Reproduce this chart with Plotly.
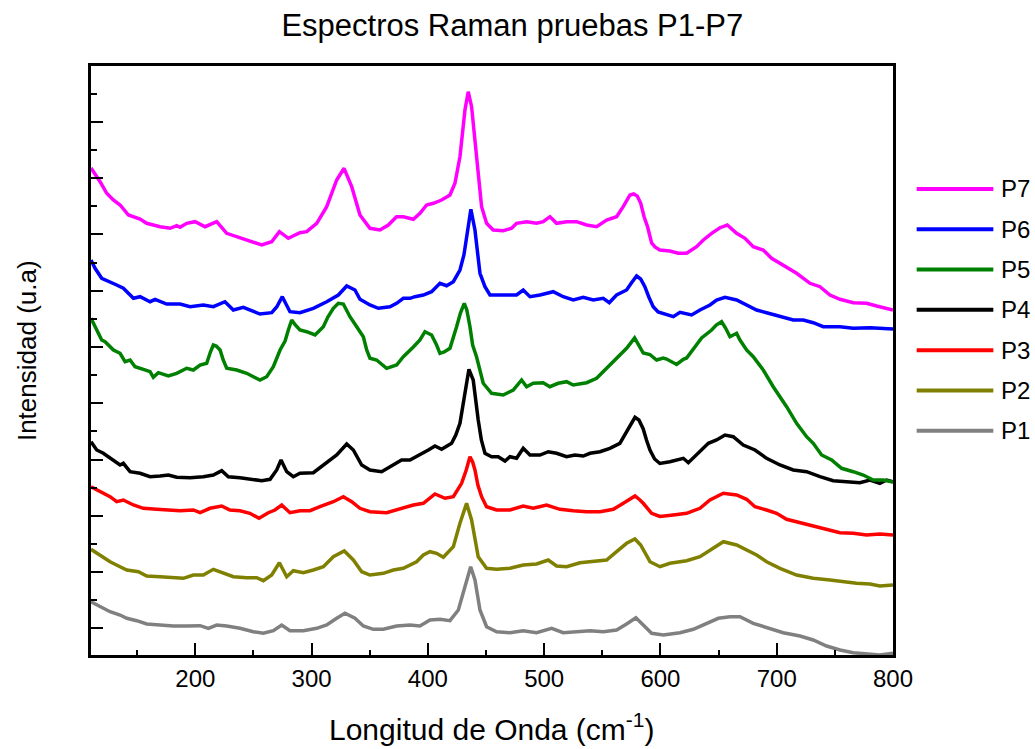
import plotly.graph_objects as go

# Espectros Raman P1-P7 (intensidad en u.a., desplazadas verticalmente como en el original)
nombres = ['P1', 'P2', 'P3', 'P4', 'P5', 'P6', 'P7']
colores = ['#808080', '#808000', '#FF0000', '#000000', '#008000', '#0000FF', '#FF00FF']

x_p1 = [110.3, 118.1, 126.7, 135.3, 141.1, 149.6, 158.2, 169.7, 181.1, 192.6, 204.1, 211.2, 218.4, 227, 238.4,
        249.9, 258.5, 267.1, 274.3, 281.4, 292.9, 304.4, 313, 321.6, 328.7, 337.3, 344.5, 353.1, 361.7, 373.1,
        384.6, 393.2, 401.8, 410.4, 419, 426.2, 431.9, 436.8, 440.5, 444.8, 450.5, 459.1, 470.6, 482, 493.5,
        506.4, 516.4, 527.9, 539.4, 550.8, 562.3, 570.9, 578.9, 585.2, 592.4, 602.5, 616.8, 628.3, 639.7, 649.8,
        659.8, 668.4, 679.8, 691.3, 705.6, 720, 731.4, 742.9, 754.4, 765.8, 777.3, 788.7, 800]
y_p1 = [53.3, 48.3, 43.3, 40, 36.7, 34.3, 31, 30, 29, 29, 29.3, 26.7, 30, 29, 26.7,
        23.3, 21.7, 24.3, 30, 24.3, 24.3, 26.7, 30, 36.7, 41.7, 36.7, 29, 25.7, 25.7, 29,
        30, 29, 35, 35.7, 34.3, 45, 68.3, 88.3, 75, 45, 28.3, 23.3, 22.3, 24.3, 22.3,
        26.7, 22.3, 23.3, 24.3, 23.3, 25, 31, 37.3, 30, 21.7, 20, 22.3, 25.7, 31.7, 36.7,
        38.3, 38.3, 31.7, 27.7, 22.3, 19, 15, 9, 5, 2.3, 1, 0, 1.7]

x_p2 = [110.3, 118.1, 126.7, 135.3, 141.1, 151.1, 158.2, 169.7, 181.1, 189.7, 198.3, 206.9, 215.5, 224.1, 232.7,
        244.2, 252.8, 258.5, 265.7, 272.3, 278.6, 284.3, 292.9, 301.5, 310.1, 318.7, 328.1, 335.9, 343.1, 350.2,
        361.7, 370.3, 378.9, 390.3, 396.1, 401.8, 407.5, 413.3, 421.9, 427.6, 433.3, 437.6, 443.3, 450.5, 459.1,
        470.6, 482, 493.5, 503.5, 510.7, 519.3, 530.8, 542.2, 553.7, 562.3, 570.9, 578.1, 583, 591, 599.6,
        608.2, 622.5, 634, 642.6, 654.1, 665.5, 674.1, 682.7, 691.3, 702.8, 717.1, 731.4, 745.8, 757.2, 768.7,
        780.2, 788.7, 800]
y_p2 = [105.7, 100, 93.3, 88.3, 85, 83.3, 79, 78.3, 77.3, 76.7, 80, 80, 85.7, 81.7, 78.3,
        77.3, 77.3, 74.3, 80, 92.3, 78.3, 84.3, 82.3, 85, 88.3, 98.3, 104, 95, 83.3, 80,
        81.7, 85, 86.7, 93.3, 100, 103.3, 101.7, 97.7, 108.3, 131.7, 151.7, 135, 98.3, 86.7, 85.7,
        86.7, 90, 91, 95, 89, 88.3, 92.3, 93.3, 95, 103.3, 111.7, 116, 110, 93.3, 88.3,
        91.7, 94.3, 98.3, 105, 113.3, 110, 105, 100, 93.3, 86.7, 80, 76.7, 75, 73.3, 71.7,
        71, 69, 70]

x_p3 = [110.3, 118.1, 126.7, 132.4, 138.1, 146.8, 155.3, 166.8, 175.4, 186.9, 198.3, 204.1, 212.6, 222.7, 229.8,
        238.4, 247, 254.8, 262.8, 268.5, 274.3, 281.4, 290, 298.6, 307.2, 318.7, 327.3, 334.5, 341.6, 350.2,
        364.5, 376.3, 387.5, 396.1, 406.1, 414.7, 421.9, 429, 433, 436.2, 438.5, 440.5, 443, 446.2, 450.5,
        459.1, 470.6, 482, 490.6, 502.1, 513.6, 525, 536.5, 548, 559.5, 568.1, 578.1, 582.4, 585.2, 592.4,
        599.5, 611.1, 622.5, 634, 642.6, 654.1, 665.5, 674.1, 681.3, 691.3, 699.9, 708.5, 720, 731.4, 742.9,
        754.4, 765.8, 777.3, 788.7, 800]
y_p3 = [168.3, 163.3, 158.3, 153.3, 155, 150, 146.7, 145.7, 145, 144.3, 145, 142.3, 146.7, 149, 145,
        144.3, 141.7, 136.7, 142.3, 145, 150, 142.3, 144.3, 144.3, 148.3, 153.3, 158.3, 153.3, 146.7, 143.3,
        142.3, 146.7, 150, 151.7, 161, 156.7, 158.3, 171.7, 185, 198.3, 193, 185, 170, 158.3, 148.3,
        145, 145, 149, 146.7, 150, 145.7, 144.3, 143.3, 143.3, 145.7, 151.7, 159, 155, 151.7, 141.7,
        138.5, 140, 141.7, 146.7, 155, 161.7, 160, 155.7, 148.3, 145, 141.7, 135.7, 132.3, 128.3, 125,
        122.3, 121.7, 120, 121, 120]

x_p4 = [110.3, 115.2, 120.9, 126.7, 135.3, 138.1, 143.9, 152.5, 161.1, 169.7, 176.8, 184, 195.5, 206.9, 215.5,
        222.7, 228.4, 238.4, 249.9, 257.1, 264.3, 270, 273.7, 278.6, 284.3, 290, 301.5, 310.1, 321.6, 330.2,
        335.9, 343.1, 350.2, 360.2, 367.4, 377.4, 384.6, 393.2, 400.4, 406.1, 411.8, 420.4, 424, 427.6, 431.9,
        435.3, 439, 441, 443.3, 446, 449.1, 454.8, 460.5, 466.3, 470.6, 476.3, 482, 487.8, 496.4, 503.5,
        510.7, 519.3, 526.5, 533.6, 539.4, 548, 556.5, 565.1, 570.9, 574.5, 578.1, 581.5, 585.2, 588, 591,
        595, 599.5, 608.1, 619.7, 624, 632.6, 641.2, 648.3, 655.5, 662.6, 671.2, 681.3, 691.3, 702.8, 714.2,
        725.7, 737.2, 748.6, 760.1, 771.5, 780.2, 788.7, 794.5, 800]
y_p4 = [213.3, 205, 201.7, 196.7, 190, 191.7, 183.3, 181.7, 178.3, 179, 180, 177.7, 177.3, 178.3, 180,
        184.3, 178.3, 177.3, 175.7, 174.3, 175.7, 185, 195, 183.3, 178.3, 181.7, 182.3, 190, 200, 211,
        205, 190, 185, 183.3, 188.3, 195, 195, 200, 205, 209, 205.7, 211.7, 220, 231.7, 261.7,
        285.7, 275, 255, 235, 215, 201.7, 198.3, 198.3, 194, 198.3, 196.7, 206.7, 200, 200, 203.3,
        201.7, 198.3, 200, 199, 201.7, 203.3, 206.7, 211.7, 223.3, 232, 237.7, 235, 226, 215, 205,
        196, 191.5, 193.3, 196.7, 192.3, 201.7, 211.7, 215, 220, 218.3, 210, 205, 196.7, 190, 185,
        183.3, 178.3, 174.3, 173.3, 172.3, 175, 171.7, 175, 173.3]

x_p5 = [110.3, 115.2, 119.5, 122.4, 125, 129.6, 135.3, 139.6, 143.9, 148.2, 155.3, 161.1, 163.9, 168.2, 176.8,
        184, 192.6, 198.3, 204.1, 209.8, 213, 215.5, 218, 221.3, 224, 227, 235.6, 244.2, 249.9, 255.6,
        261.4, 267.1, 272.9, 277.2, 280, 282.9, 286, 290, 295.8, 303, 310.1, 314, 318.7, 323, 327.3,
        330, 333, 338.8, 344.5, 347.4, 350.2, 355.9, 364.5, 373.1, 378.9, 387.5, 393.2, 397.5, 403.2, 407.5,
        410.4, 414, 419, 424.7, 428, 431.3, 433.5, 436.2, 438.5, 441.9, 444.5, 447.6, 454.8, 464.8, 473.4,
        480.6, 484.9, 490.6, 499.2, 504.9, 512.1, 519.3, 525, 536.5, 545.1, 556.5, 565.1, 570.9, 577.8, 582.4,
        585.2, 590.9, 596.7, 602.4, 605.3, 613.9, 619.7, 622.5, 626.8, 635.4, 644, 648, 652.6, 656, 659.8,
        665.5, 668.4, 674.1, 679.8, 688.4, 697, 708.5, 717.1, 725.7, 731.4, 738.6, 747.2, 755.8, 765.8, 774.4,
        783, 791.6, 800]
y_p5 = [336.7, 325, 315, 313.3, 310, 305, 301.7, 293.3, 295, 288.3, 285.7, 283.3, 277.7, 282.3, 279,
        281.7, 286.7, 285, 290, 291.7, 303, 310, 309, 305, 295, 286.7, 285, 281.7, 278.3, 275,
        278.3, 288.3, 305, 314, 325, 335, 330, 325, 323.3, 320, 328.3, 338, 346.7, 351.7, 351,
        345, 338.3, 328.3, 318.3, 305, 296.7, 295, 286.7, 290, 298.3, 308, 315, 323.3, 320, 310,
        301.7, 303, 306.7, 328.3, 342, 351.7, 345, 328.3, 310, 298, 285, 271.7, 261.7, 260, 265,
        275, 268.3, 271.7, 272.3, 268.3, 271.7, 273.3, 270, 272.3, 276.7, 290, 300, 306.7, 317, 308,
        302, 300.5, 295, 297, 296, 290.5, 295.7, 297, 303.3, 317, 325, 330, 333.3, 327, 318.3,
        321.7, 315, 305, 298.3, 285, 268.3, 248.3, 231.7, 218.3, 211.7, 200, 195, 186.7, 183.3, 180,
        175, 175, 173]

x_p6 = [110.3, 113.8, 119.5, 126.7, 132.4, 138.1, 146.8, 152.5, 161.1, 165.4, 175.4, 186.9, 195.5, 206.9, 215.5,
        225.5, 232.7, 241.3, 255.6, 265.7, 270, 274.8, 278, 281.4, 290, 301.5, 313, 323, 330.2, 337.3,
        341.6, 350.2, 357.4, 367.4, 373.1, 378.9, 384.6, 388.9, 396.1, 403.2, 410.4, 416.1, 421.9, 427.6, 431,
        433.3, 437, 440.5, 444.8, 449.1, 453.4, 464.8, 476.3, 482, 487.8, 496.4, 507.8, 516.4, 525, 533.6,
        542.2, 550.8, 556, 562.3, 570.9, 575, 579.5, 583, 586.6, 590, 593.8, 598, 602.4, 611.1, 616.8,
        626.8, 634, 642.6, 648.3, 655.5, 665.5, 674.1, 682.7, 691.3, 702.8, 714.2, 722.8, 731.4, 740, 754.4,
        765.8, 780.2, 800]
y_p6 = [395, 386.7, 376.7, 373.3, 370, 366.7, 356.7, 358.3, 353.3, 355.7, 351, 351, 348.3, 350, 348.3,
        353.3, 345, 347.7, 341, 342.3, 348, 358.3, 350, 343.3, 342.3, 346.7, 353.3, 360, 369, 365,
        355.7, 350, 346.7, 348.3, 351.7, 356.7, 356.7, 358.3, 360, 363.3, 371.7, 369.3, 373.3, 385, 400,
        418.3, 445.7, 425, 381.7, 368.3, 360, 360, 360, 365, 358.3, 360, 363.3, 358.3, 355, 357.7,
        355, 356.7, 352.3, 360, 365, 372, 379, 376, 368.3, 358, 348.3, 343, 341.7, 338.3, 342.7,
        340, 345, 350, 355, 357.7, 355, 350, 345, 342.3, 338.3, 335, 335, 332.3, 328.3, 328.3,
        326.7, 327.3, 326]

x_p7 = [110.3, 118.1, 123.8, 129.5, 135.3, 142.5, 152.5, 158.2, 169.7, 178.3, 184, 186.9, 192.6, 199.8, 208.4,
        218.4, 227, 235.6, 244.2, 257.1, 265.7, 272.3, 280, 290, 295.8, 304.4, 313, 321.6, 327.9, 334.5,
        341.6, 350.2, 358.8, 366, 373.1, 378.9, 387.5, 393.2, 398.9, 404.7, 411.8, 419, 423.3, 427.6, 431.9,
        434.7, 437.6, 441.9, 446.2, 450.5, 456.2, 464.8, 472, 476.3, 484.9, 493.5, 499.2, 505, 510.7, 519.3,
        527.9, 536.5, 545.1, 553.7, 562.3, 568, 573.8, 577, 580, 583, 586, 589, 592.4, 595.3, 599.5,
        608, 615.4, 622.5, 631.1, 636.9, 644, 651.2, 657.5, 665.5, 672.7, 679.8, 688.4, 695.6, 705.6, 717.1,
        728.6, 737.2, 745.8, 754.4, 765.8, 777.3, 785.9, 800]
y_p7 = [487, 473.3, 461.7, 455, 450, 440, 436, 431.7, 428.3, 426.7, 429.3, 427.7, 431.7, 433.3, 428.3,
        433.3, 421.7, 418.3, 415, 410, 413.3, 423.3, 416.7, 422.3, 423.3, 431.7, 448.3, 475, 486.7, 468.3,
        440, 426.7, 425, 430, 438.3, 438.3, 435.7, 441.7, 450, 451.7, 455, 460, 471.7, 498.3, 545,
        563.3, 548.3, 495, 448.3, 431.7, 425, 424.3, 426.7, 431.7, 433.3, 431.7, 433.3, 438.3, 431.7, 433.3,
        433.3, 430, 428.3, 435, 438.3, 448.3, 460, 461, 459, 452, 438, 428, 412, 408, 405,
        404, 401.7, 401.7, 408.3, 415, 421.7, 427.3, 430, 421.7, 416.7, 408.3, 405, 396.7, 390, 381.7,
        371.7, 368.3, 360, 355.7, 352.3, 351.7, 349, 345]

series_x = [x_p1, x_p2, x_p3, x_p4, x_p5, x_p6, x_p7]
series_y = [y_p1, y_p2, y_p3, y_p4, y_p5, y_p6, y_p7]

fuente = 'Liberation Sans, Arial, sans-serif'

fig = go.Figure()
for nombre, color, xs, ys in zip(nombres, colores, series_x, series_y):
    fig.add_trace(go.Scatter(x=xs, y=ys, mode='lines', name=nombre,
                             line=dict(color=color, width=3.5), showlegend=False))

# leyenda dibujada a mano (lineas largas como en Origin), P7 arriba
for i, nombre in enumerate(reversed(nombres)):
    color = colores[len(nombres) - 1 - i]
    yl = 0.7912 - i * 0.0684
    fig.add_shape(type='line', xref='paper', yref='paper', x0=1.0295, x1=1.1251, y0=yl, y1=yl,
                  line=dict(color=color, width=4))
    fig.add_annotation(text=nombre, xref='paper', yref='paper', x=1.1322, y=yl, xanchor='left',
                       yanchor='middle', showarrow=False, font=dict(size=24, color='black', family=fuente))

fig.add_annotation(text='Longitud de Onda (cm<sup>-1</sup>)', xref='paper', yref='paper', x=0.5, y=-0.122,
                   xanchor='center', yanchor='middle', showarrow=False,
                   font=dict(size=30, color='black', family=fuente))
fig.add_annotation(text='Intensidad (u.a)', xref='paper', yref='paper', x=-0.0798, y=0.516,
                   xanchor='center', yanchor='middle', textangle=-90, showarrow=False,
                   font=dict(size=26, color='black', family=fuente))

fig.update_layout(
    width=1035, height=749,
    margin=dict(l=91, r=142, t=66, b=94),
    paper_bgcolor='white', plot_bgcolor='white',
    font=dict(family=fuente, color='black'),
    title=dict(text='Espectros Raman pruebas P1-P7', x=0.495, xanchor='center', xref='container',
               y=0.967, yanchor='middle', font=dict(size=31, color='black', family=fuente)),
    xaxis=dict(range=[110.3, 800], tickmode='linear', tick0=0, dtick=100,
               ticks='inside', ticklen=12, tickwidth=2, tickcolor='black',
               minor=dict(tick0=0, dtick=50, ticks='inside', ticklen=5, tickwidth=2, tickcolor='black'),
               showline=True, linewidth=3, linecolor='black', mirror=True,
               showgrid=False, zeroline=False, tickfont=dict(size=24, color='black')),
    yaxis=dict(range=[0, 589], tickmode='linear', tick0=26.7, dtick=56.26,
               ticks='inside', ticklen=12, tickwidth=2, tickcolor='black',
               minor=dict(tick0=-1.43, dtick=28.13, ticks='inside', ticklen=6, tickwidth=2, tickcolor='black'),
               showline=True, linewidth=3, linecolor='black', mirror=True,
               showgrid=False, zeroline=False, showticklabels=False),
)

# la pagina trae margen de 8 px en body; se quita para que la figura ocupe la ventana completa
fig.write_html('out.html', config={'displayModeBar': False},
               post_script="document.body.style.margin='0px';")
